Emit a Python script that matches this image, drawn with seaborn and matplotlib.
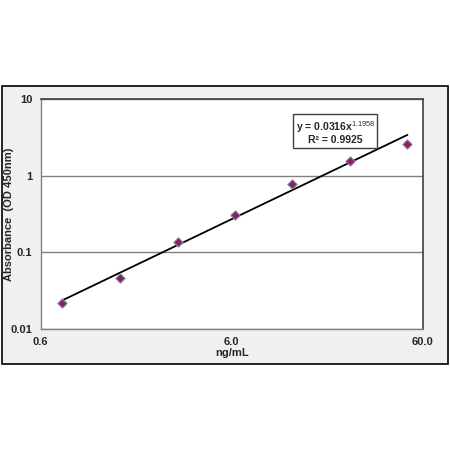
import numpy as np
import pandas as pd
import matplotlib
matplotlib.use("Agg")
import matplotlib.pyplot as plt
import matplotlib.ticker as mticker
from matplotlib.patches import Rectangle
import seaborn as sns

# Standard curve data
conc = [0.78, 1.56, 3.125, 6.25, 12.5, 25, 50]
absorb = [0.0218, 0.0455, 0.137, 0.305, 0.769, 1.55, 2.61]

# Power trendline shown in the box
coef_a = 0.0316
coef_b = 1.1958
r_squared = 0.9925

x_ticks = [0.6, 6.0, 60.0]
x_labels = ["0.6", "6.0", "60.0"]
y_ticks = [0.01, 0.1, 1, 10]
y_labels = ["0.01", "0.1", "1", "10"]

sns.set_style("white")
plt.rcParams['font.family'] = ['Liberation Sans', 'DejaVu Sans']
plt.rcParams['mathtext.fontset'] = 'custom'
plt.rcParams['mathtext.rm'] = 'Liberation Sans'
plt.rcParams['mathtext.bf'] = 'Liberation Sans:bold'

df = pd.DataFrame({"conc": conc, "abs": absorb})
fit_x = np.geomspace(conc[0], conc[-1], 50)
fit = pd.DataFrame({"conc": fit_x, "abs": coef_a * fit_x ** coef_b})

fig = plt.figure(figsize=(4.5, 4.5), dpi=100)
fig.patch.set_facecolor("white")
# outer chart frame (Excel style)
fig.patches.append(Rectangle((0.005, 0.191), 0.99, 0.617, transform=fig.transFigure,
                             facecolor="#f0f0f0", edgecolor="black", lw=1.2, zorder=-5))

ax = fig.add_axes([0.0904, 0.2696, 0.8486, 0.5104])
ax.set_zorder(2)
ax.set_facecolor("white")
ax.set_xscale("log")
ax.set_yscale("log")

sns.lineplot(data=fit, x="conc", y="abs", color="black", lw=1.3, ax=ax, zorder=3)
sns.scatterplot(data=df, x="conc", y="abs", marker="D", s=22, color="#8b2252",
                edgecolor="#8080b8", linewidth=0.8, ax=ax, zorder=4)

ax.set_xlim(0.6, 60)
ax.set_ylim(0.01, 10)
ax.set_xticks(x_ticks)
ax.set_xticklabels(x_labels)
ax.set_yticks(y_ticks)
ax.set_yticklabels(y_labels)
ax.xaxis.set_minor_locator(mticker.LogLocator(subs=np.arange(2, 10)))
ax.yaxis.set_minor_locator(mticker.LogLocator(subs=np.arange(2, 10)))
ax.xaxis.set_minor_formatter(mticker.NullFormatter())
ax.yaxis.set_minor_formatter(mticker.NullFormatter())

ax.tick_params(which="major", direction="out", length=3, width=1, color="#808080",
               labelsize=8, pad=3)
ax.tick_params(which="minor", direction="in", length=2.5, width=0.8, color="#808080")
for lbl in ax.get_xticklabels() + ax.get_yticklabels():
    lbl.set_fontweight("bold")

ax.grid(True, which="major", axis="y", color="#808080", lw=1)
ax.grid(False, axis="x")

for side in ["left", "bottom"]:
    ax.spines[side].set_color("#808080")
    ax.spines[side].set_linewidth(1)
for side in ["top", "right"]:
    ax.spines[side].set_color("#404040")
    ax.spines[side].set_linewidth(1.2)

ax.set_xlabel("ng/mL", fontsize=8, fontweight="bold")
ax.set_ylabel("Absorbance  (OD 450nm)", fontsize=8, fontweight="bold")
ax.xaxis.set_label_coords(0.5, -0.085)
ax.yaxis.set_label_coords(-0.07, 0.5)

ax.text(0.771, 0.856,
        "y = %.4fx$^{\\mathrm{%.4f}}$\nR² = %.4f" % (coef_a, coef_b, r_squared),
        transform=ax.transAxes, ha="center", va="center", fontsize=7.5,
        fontweight="bold", linespacing=1.05, zorder=5,
        bbox=dict(boxstyle="square,pad=0.25", facecolor="white", edgecolor="#404040", lw=1))

fig.savefig("out.png", dpi=100)
